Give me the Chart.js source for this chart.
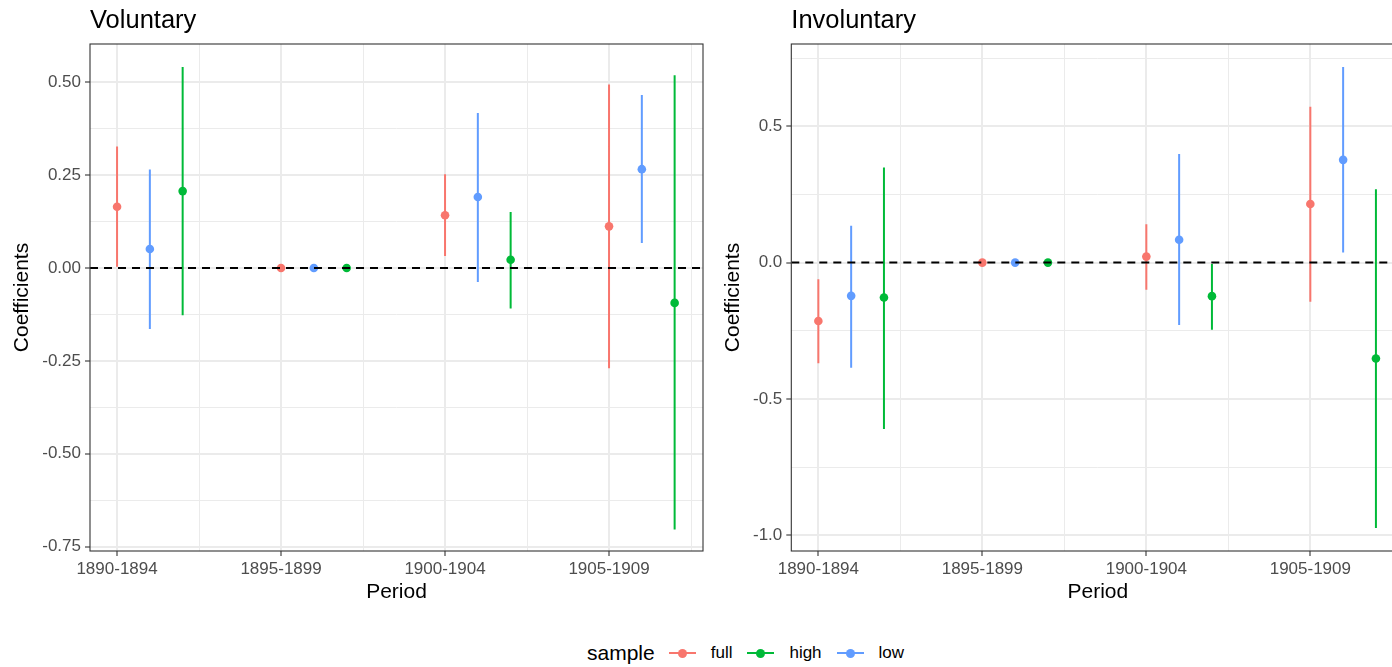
<!DOCTYPE html>
<html>
<head>
<meta charset="utf-8">
<script src="https://cdn.jsdelivr.net/npm/chart.js@4.4.1/dist/chart.umd.min.js"></script>
<style>
html, body { margin: 0; padding: 0; background: #fff; overflow: hidden; }
#wrap { position: relative; width: 1392px; height: 667px; overflow: hidden; font-family: "Liberation Sans", Arial, sans-serif; }
.panel { position: absolute; top: 0; height: 610px; }
#p1 { left: 0; width: 710px; }
#p2 { left: 703px; width: 708px; }
#legend { position: absolute; left: 587px; top: 640px; height: 26px; display: flex; align-items: center; }
#legend .ltitle { font-size: 21px; color: #000; margin-right: 14px; }
#legend .key { position: relative; width: 27px; height: 26px; margin-right: 15px; }
#legend .key .ln { position: absolute; left: 0; right: 0; top: 12px; height: 2px; }
#legend .key .dot { position: absolute; left: 9px; top: 8.5px; width: 9px; height: 9px; border-radius: 50%; }
#legend .lab { font-size: 17px; color: #000; margin-right: 15px; }
</style>
</head>
<body>
<div id="wrap">
  <div class="panel" id="p1"><canvas id="voluntary"></canvas></div>
  <div class="panel" id="p2"><canvas id="involuntary"></canvas></div>
  <div id="legend"></div>
</div>
<script>
// Categories and groups
const periods = ['1890-1894', '1895-1899', '1900-1904', '1905-1909'];
const samples = ['full', 'high', 'low'];
const sampleColors = ['#F8766D', '#00BA38', '#619CFF'];

// Voluntary estimates and confidence bounds (1895-1899 is the reference period)
const volFull = [0.165, 0, 0.142, 0.112];
const volFullLo = [0.003, null, 0.032, -0.270];
const volFullHi = [0.327, null, 0.252, 0.494];
const volHigh = [0.207, 0, 0.022, -0.094];
const volHighLo = [-0.127, null, -0.109, -0.704];
const volHighHi = [0.541, null, 0.151, 0.519];
const volLow = [0.051, 0, 0.191, 0.266];
const volLowLo = [-0.164, null, -0.038, 0.067];
const volLowHi = [0.265, null, 0.417, 0.466];

// Involuntary estimates and confidence bounds
const invFull = [-0.214, 0, 0.022, 0.215];
const invFullLo = [-0.369, null, -0.100, -0.144];
const invFullHi = [-0.061, null, 0.141, 0.572];
const invHigh = [-0.128, 0, -0.123, -0.352];
const invHighLo = [-0.610, null, -0.246, -0.974];
const invHighHi = [0.349, null, -0.005, 0.269];
const invLow = [-0.122, 0, 0.084, 0.377];
const invLowLo = [-0.386, null, -0.229, 0.037];
const invLowHi = [0.135, null, 0.398, 0.718];

// Tick labels
const volTicks = [-0.75, -0.5, -0.25, 0, 0.25, 0.5];
const invTicks = [-1.0, -0.5, 0, 0.5];

// dodge of each sample within a period (full, high, low)
const dodge = [0, 0.4, 0.2];

Chart.defaults.font.family = '"Liberation Sans", Arial, sans-serif';

function buildDatasets(est, lo, hi) {
    const points = [];
    const lines = [];
    samples.forEach((s, k) => {
        const color = sampleColors[k];
        const pts = est[k].map((v, i) => ({ x: i + dodge[k], y: v }));
        const seg = [];
        lo[k].forEach((v, i) => {
            if (v === null) return;
            seg.push({ x: i + dodge[k], y: v });
            seg.push({ x: i + dodge[k], y: hi[k][i] });
            seg.push({ x: i + dodge[k], y: null });
        });
        points.push({
            label: s,
            data: pts,
            backgroundColor: color,
            borderColor: color,
            borderWidth: 0,
            pointRadius: 4.3,
            showLine: false
        });
        lines.push({
            label: s + ' ci',
            data: seg,
            borderColor: color,
            borderWidth: 2,
            pointRadius: 0,
            showLine: true,
            spanGaps: false
        });
    });
    return points.concat(lines);
}

// Panel decorations: title, dashed zero line, border
const panelPlugin = {
    id: 'panelDecor',
    afterDatasetsDraw(chart) {
        const { ctx, chartArea, scales } = chart;
        const y0 = scales.y.getPixelForValue(0);
        ctx.save();
        ctx.beginPath();
        ctx.rect(chartArea.left, chartArea.top, chartArea.right - chartArea.left, chartArea.bottom - chartArea.top);
        ctx.clip();
        ctx.strokeStyle = '#000';
        ctx.lineWidth = 2;
        ctx.setLineDash([8, 6]);
        ctx.beginPath();
        ctx.moveTo(chartArea.left, y0);
        ctx.lineTo(chartArea.right, y0);
        ctx.stroke();
        ctx.restore();
    },
    afterDraw(chart, args, opts) {
        const { ctx, chartArea } = chart;
        ctx.save();
        ctx.strokeStyle = '#333333';
        ctx.lineWidth = 1.1;
        ctx.strokeRect(chartArea.left, chartArea.top, chartArea.right - chartArea.left, chartArea.bottom - chartArea.top);
        ctx.fillStyle = '#000';
        ctx.font = '25.5px "Liberation Sans", Arial, sans-serif';
        ctx.textBaseline = 'alphabetic';
        ctx.textAlign = 'left';
        ctx.fillText(opts.text, chartArea.left, 27.5);
        ctx.restore();
    }
};

function makePanel(canvasId, title, est, lo, hi, yMin, yMax, majors, decimals, axisWidth, padRight, titlePad) {
    const minors = [];
    for (let i = 0; i < majors.length; i++) {
        const step = majors.length > 1 ? majors[1] - majors[0] : 0.25;
        minors.push(majors[i] - step / 2);
        if (i === majors.length - 1) minors.push(majors[i] + step / 2);
    }
    const yTicks = majors.concat(minors).filter(v => v >= yMin && v <= yMax).sort((a, b) => a - b);
    const isMajorY = v => majors.some(m => Math.abs(m - v) < 1e-9);
    const xTicks = [0, 0.5, 1, 1.5, 2, 2.5, 3, 3.5];
    const isMajorX = v => Number.isInteger(v);

    return new Chart(document.getElementById(canvasId), {
        type: 'scatter',
        data: { datasets: buildDatasets(est, lo, hi) },
        options: {
            responsive: true,
            maintainAspectRatio: false,
            animation: false,
            layout: { padding: { left: 0, top: 44, right: padRight, bottom: 0 } },
            plugins: {
                legend: { display: false },
                tooltip: { enabled: false },
                panelDecor: { text: title }
            },
            scales: {
                x: {
                    type: 'linear',
                    min: -0.165,
                    max: 3.573,
                    afterBuildTicks: s => { s.ticks = xTicks.map(v => ({ value: v })); },
                    afterFit: s => { s.height = 59; },
                    ticks: {
                        autoSkip: false,
                        maxRotation: 0,
                        padding: 3,
                        color: '#4D4D4D',
                        font: { size: 17 },
                        callback: v => isMajorX(v) ? periods[v] : ''
                    },
                    grid: {
                        color: '#EBEBEB',
                        lineWidth: c => (c.tick && isMajorX(c.tick.value)) ? 2 : 1,
                        tickColor: c => (c.tick && isMajorX(c.tick.value)) ? '#333333' : 'rgba(0,0,0,0)',
                        tickLength: 5,
                        tickWidth: 1.1
                    },
                    border: { display: false },
                    title: {
                        display: true,
                        text: 'Period',
                        color: '#000',
                        font: { size: 21 },
                        padding: { top: 0, bottom: 5 }
                    }
                },
                y: {
                    min: yMin,
                    max: yMax,
                    afterBuildTicks: s => { s.ticks = yTicks.map(v => ({ value: v })); },
                    afterFit: s => { s.width = axisWidth; },
                    ticks: {
                        autoSkip: false,
                        padding: 4,
                        color: '#4D4D4D',
                        font: { size: 17 },
                        callback: v => isMajorY(v) ? v.toFixed(decimals) : ''
                    },
                    grid: {
                        color: '#EBEBEB',
                        lineWidth: c => (c.tick && isMajorY(c.tick.value)) ? 2 : 1,
                        tickColor: c => (c.tick && isMajorY(c.tick.value)) ? '#333333' : 'rgba(0,0,0,0)',
                        tickLength: 5,
                        tickWidth: 1.1
                    },
                    border: { display: false },
                    title: {
                        display: true,
                        text: 'Coefficients',
                        color: '#000',
                        font: { size: 21 },
                        padding: { top: titlePad, bottom: 0 }
                    }
                }
            }
        },
        plugins: [panelPlugin]
    });
}

makePanel('voluntary', 'Voluntary',
    [volFull, volHigh, volLow], [volFullLo, volHighLo, volLowLo], [volFullHi, volHighHi, volLowHi],
    -0.762, 0.603, volTicks, 2, 90, 7, 10);

makePanel('involuntary', 'Involuntary',
    [invFull, invHigh, invLow], [invFullLo, invHighLo, invLowLo], [invFullHi, invHighHi, invLowHi],
    -1.058, 0.802, invTicks, 1, 88.3, 6.7, 18);

// Shared legend
const legend = document.getElementById('legend');
legend.innerHTML = '<span class="ltitle">sample</span>' + samples.map((s, k) =>
    '<span class="key"><span class="ln" style="background:' + sampleColors[k] + '"></span>' +
    '<span class="dot" style="background:' + sampleColors[k] + '"></span></span>' +
    '<span class="lab">' + s + '</span>').join('');
</script>
</body>
</html>
